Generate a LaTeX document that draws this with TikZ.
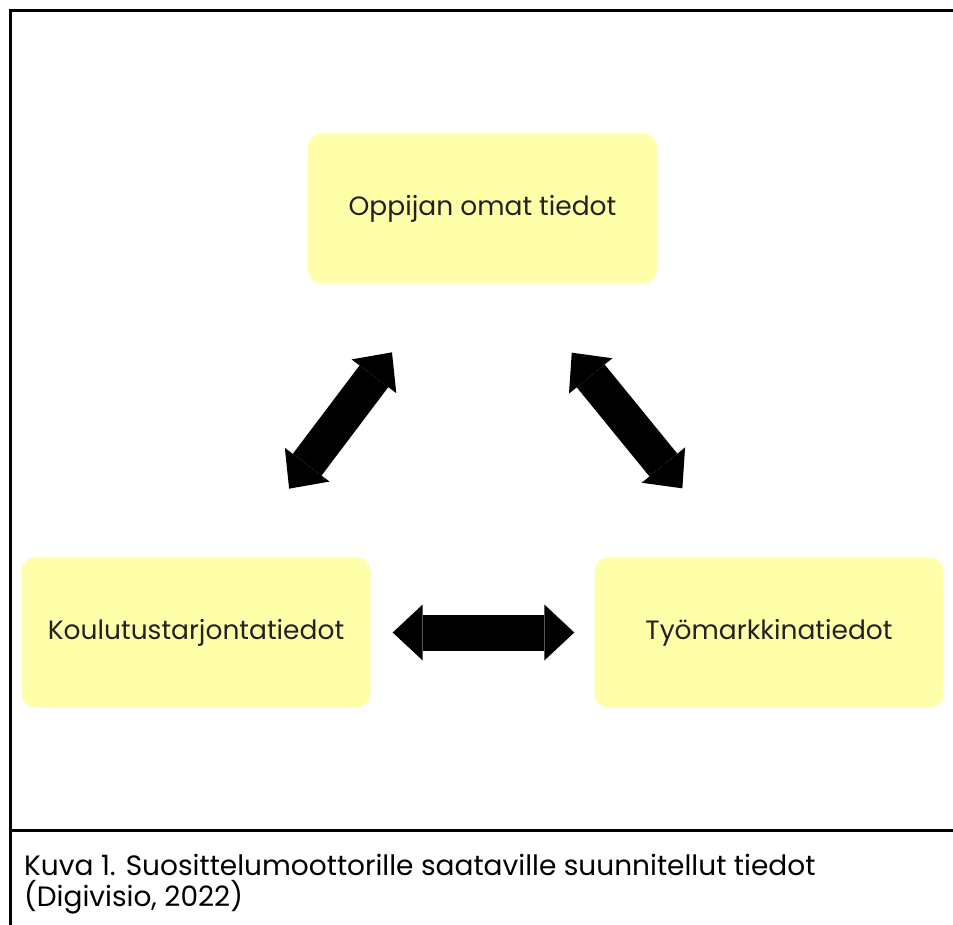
\documentclass[tikz,border=0pt]{standalone}
\usepackage{fontspec}
\setmainfont{Poppins}
\usepackage{xcolor}
\usetikzlibrary{arrows.meta,calc}
\definecolor{boxyellow}{RGB}{255,255,170}
\definecolor{boxtext}{RGB}{34,34,34}
\tikzset{
  infobox/.style={rectangle,rounded corners=14pt,fill=boxyellow,minimum width=349pt,minimum height=150pt,text=boxtext,font=\fontsize{26.5}{30}\selectfont},
  fatarrow/.style={line width=36pt,{Triangle[width=56pt,length=30pt,line width=0pt]}-{Triangle[width=56pt,length=30pt,line width=0pt]}},
  frameline/.style={line width=3pt}
}
\begin{document}
\begin{tikzpicture}[x=1pt,y=-1pt]
\useasboundingbox (0,0) rectangle (953,925);
% frame
\coordinate (ftl) at (10.5,10.5);
\coordinate (ftr) at (953,10.5);
\coordinate (fbl) at (10.5,925);
\coordinate (fml) at (9,830);
\coordinate (fmr) at (953,830);
\draw[frameline] (ftr) -- (ftl) -- (fbl);
\draw[frameline] (fml) -- (fmr);
% boxes
\node[infobox] (oma) at (482.5,208.5) {Oppijan omat tiedot};
\node[infobox] (kou) at (196,632.5) {Koulutustarjontatiedot};
\node[infobox] (tyo) at (769,632.5) {Työmarkkinatiedot};
% arrows
\draw[fatarrow,shorten <=22pt,shorten >=20pt] (kou) -- (tyo);
\draw[fatarrow,shorten <=86pt,shorten >=86pt] ([xshift=216pt]kou.north west) -- ([xshift=136pt]oma.south west);
\draw[fatarrow,shorten <=89pt,shorten >=89pt] ([xshift=207.7pt]oma.south west) -- ([xshift=144.3pt]tyo.north west);
% caption
\node[anchor=north west,align=left,inner sep=0pt,font=\fontsize{28}{31}\selectfont] (cap) at (24,854) {Kuva 1. Suosittelumoottorille saataville suunnitellut tiedot\\(Digivisio, 2022)};
\end{tikzpicture}
\end{document}
